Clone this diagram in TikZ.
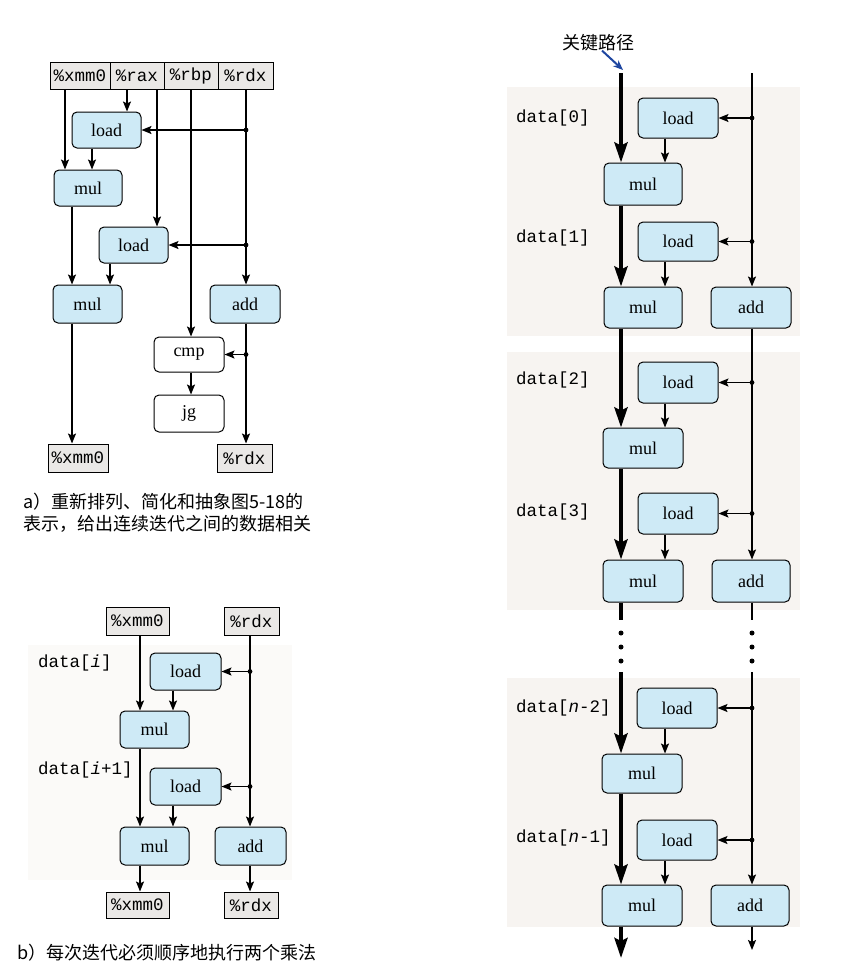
\documentclass[tikz,border=0pt]{standalone}
\usepackage{fontspec}
\setmainfont{Liberation Serif}
\setmonofont{Liberation Mono}
\newfontfamily\cjk{Noto Sans CJK SC}
\usetikzlibrary{arrows.meta}
\definecolor{opblue}{RGB}{206,234,246}
\definecolor{regfill}{RGB}{234,232,230}
\definecolor{panelc}{RGB}{247,244,241}
\definecolor{panelb}{RGB}{251,250,248}
\definecolor{critblue}{RGB}{30,70,160}
\begin{document}
\begin{tikzpicture}[x=1pt,y=-1pt,
  op/.style={draw,line width=1pt,rounded corners=5pt,fill=opblue,inner sep=0pt,font=\fontsize{18}{20}\selectfont},
  plainop/.style={op,fill=white},
  reg/.style={draw,line width=1pt,fill=regfill,inner sep=0pt,minimum height=27pt,font=\fontsize{17.5}{20}\selectfont\ttfamily},
  lab/.style={anchor=west,inner sep=0pt,font=\fontsize{17.5}{20}\selectfont\ttfamily},
  captxt/.style={anchor=west,inner sep=0pt,font=\cjk\fontsize{18}{22}\selectfont},
  arr/.style={line width=1.4pt,-{Stealth[length=10pt,width=8pt,inset=2pt]}},
  ln/.style={line width=1.4pt},
  critln/.style={line width=4pt},
  tarr/.style={line width=4pt,-{Stealth[length=20pt,width=13pt,inset=3pt]}},
  dotc/.style={fill=black}
]
\useasboundingbox[fill=white] (0,0) rectangle (867,975);

% ---------------- panels ----------------
\fill[panelb] (28,645) rectangle (292,880);
\fill[panelc] (507,87) rectangle (800,336);
\fill[panelc] (507,352) rectangle (800,610);
\fill[panelc] (507,678) rectangle (800,927);

% ---------------- part (a) ----------------
\node[reg,minimum width=60pt] (ax) at (80,75.5) {\%xmm0};
\node[reg,minimum width=54pt] (ar) at (137,75.5) {\%rax};
\node[reg,minimum width=54pt] (ab) at (191,75.5) {\%rbp};
\node[reg,minimum width=55pt] (ad) at (245.5,75.5) {\%rdx};
\node[op,minimum width=69pt,minimum height=36pt] (al1) at (106.5,130) {load};
\node[op,minimum width=68pt,minimum height=36pt] (am1) at (88,188) {mul};
\node[op,minimum width=69pt,minimum height=36pt] (al2) at (133.5,245) {load};
\node[op,minimum width=69pt,minimum height=38pt] (am2) at (87.5,304) {mul};
\node[op,minimum width=70pt,minimum height=38pt] (aadd) at (245,304) {add};
\node[plainop,minimum width=70pt,minimum height=35pt] (acmp) at (189,354.5) {cmp};
\node[plainop,minimum width=70pt,minimum height=37pt] (ajg) at (189,413.5) {jg};
\node[reg,minimum width=60pt,minimum height=28pt] (axo) at (78,458) {\%xmm0};
\node[reg,minimum width=55pt,minimum height=28pt] (ado) at (244.5,458) {\%rdx};

\coordinate (aC1) at (65,0);
\coordinate (aC2) at (92,0);
\coordinate (aC3) at (72,0);
\coordinate (aC4) at (110,0);
\coordinate (aC5) at (127,0);
\coordinate (aC6) at (157,0);
\coordinate (aC7) at (191,0);
\coordinate (aC8) at (246,0);
\coordinate (aD1) at (al1.east -| aC8);
\coordinate (aD2) at (al2.east -| aC8);
\coordinate (aD3) at (acmp.east -| aC8);

\draw[arr] (ax.south -| aC1) -- (am1.north -| aC1);
\draw[arr] (ar.south -| aC5) -- (al1.north -| aC5);
\draw[arr] (ar.south -| aC6) -- (al2.north -| aC6);
\draw[arr] (ab.south -| aC7) -- (acmp.north -| aC7);
\draw[arr] (ad.south -| aC8) -- (aadd.north -| aC8);
\draw[arr] (aD1) -- (al1.east);
\draw[arr] (aD2) -- (al2.east);
\draw[arr] (al1.south -| aC2) -- (am1.north -| aC2);
\draw[arr] (am1.south -| aC3) -- (am2.north -| aC3);
\draw[arr] (al2.south -| aC4) -- (am2.north -| aC4);
\draw[arr] (am2.south -| aC3) -- (axo.north -| aC3);
\draw[arr] (aadd.south -| aC8) -- (ado.north -| aC8);
\draw[arr] (aD3) -- (acmp.east);
\draw[arr] (acmp.south -| aC7) -- (ajg.north -| aC7);
\fill[dotc] (aD1) circle (2.4pt) (aD2) circle (2.4pt) (aD3) circle (2.4pt);

\node[captxt] (capa1) at (23,502) {a）重新排列、简化和抽象图5-18的};
\node[captxt] (capa2) at (23,524) {表示，给出连续迭代之间的数据相关};

% ---------------- part (b) ----------------
\node[reg,minimum width=63pt,minimum height=28pt] (bx) at (137.5,621) {\%xmm0};
\node[reg,minimum width=55pt,minimum height=28pt] (bd) at (251.5,621) {\%rdx};
\node[op,minimum width=71pt,minimum height=37pt] (bl1) at (185.5,671.5) {load};
\node[op,minimum width=69pt,minimum height=37pt] (bm1) at (154.5,729.5) {mul};
\node[op,minimum width=71pt,minimum height=37pt] (bl2) at (185.5,786.5) {load};
\node[op,minimum width=69pt,minimum height=38pt] (bm2) at (154.5,846) {mul};
\node[op,minimum width=71pt,minimum height=38pt] (badd) at (250.5,846) {add};
\node[reg,minimum width=63pt,minimum height=26pt] (bxo) at (137.5,905) {\%xmm0};
\node[reg,minimum width=54pt,minimum height=26pt] (bdo) at (251,905) {\%rdx};
\node[lab] (bt1) at (38,663) {data[\textit{i}]};
\node[lab] (bt2) at (38,770) {data[\textit{i}+1]};

\coordinate (bC1) at (140,0);
\coordinate (bC2) at (173,0);
\coordinate (bC3) at (250,0);
\coordinate (bD1) at (bl1.east -| bC3);
\coordinate (bD2) at (bl2.east -| bC3);

\draw[arr] (bx.south -| bC1) -- (bm1.north -| bC1);
\draw[arr] (bm1.south -| bC1) -- (bm2.north -| bC1);
\draw[arr] (bm2.south -| bC1) -- (bxo.north -| bC1);
\draw[arr] (bl1.south -| bC2) -- (bm1.north -| bC2);
\draw[arr] (bl2.south -| bC2) -- (bm2.north -| bC2);
\draw[arr] (bd.south -| bC3) -- (badd.north -| bC3);
\draw[arr] (badd.south -| bC3) -- (bdo.north -| bC3);
\draw[arr] (bD1) -- (bl1.east);
\draw[arr] (bD2) -- (bl2.east);
\fill[dotc] (bD1) circle (2.4pt) (bD2) circle (2.4pt);

\node[captxt] (capb) at (17,953) {b）每次迭代必须顺序地执行两个乘法};

% ---------------- right part ----------------
\node[op,minimum width=80pt,minimum height=40pt] (r0l) at (678,118) {load};
\node[op,minimum width=78pt,minimum height=42pt] (r0m) at (643,184) {mul};
\node[op,minimum width=80pt,minimum height=39pt] (r1l) at (678,241.5) {load};
\node[op,minimum width=78pt,minimum height=41pt] (r1m) at (643,307.5) {mul};
\node[op,minimum width=80pt,minimum height=41pt] (r1a) at (751,307.5) {add};
\node[op,minimum width=80pt,minimum height=41pt] (r2l) at (678,382.5) {load};
\node[op,minimum width=80pt,minimum height=40pt] (r2m) at (643,448) {mul};
\node[op,minimum width=80pt,minimum height=41pt] (r3l) at (678,513.5) {load};
\node[op,minimum width=80pt,minimum height=42pt] (r3m) at (643,581) {mul};
\node[op,minimum width=78pt,minimum height=42pt] (r3a) at (751,581) {add};
\node[op,minimum width=80pt,minimum height=40pt] (r4l) at (677,708) {load};
\node[op,minimum width=80pt,minimum height=39pt] (r4m) at (642,773.5) {mul};
\node[op,minimum width=80pt,minimum height=40pt] (r5l) at (677,840) {load};
\node[op,minimum width=80pt,minimum height=41pt] (r5m) at (642,905.5) {mul};
\node[op,minimum width=78pt,minimum height=41pt] (r5a) at (750,905.5) {add};

\node[lab] (rt0) at (516,118) {data[0]};
\node[lab] (rt1) at (516,238) {data[1]};
\node[lab] (rt2) at (516,380) {data[2]};
\node[lab] (rt3) at (516,512) {data[3]};
\node[lab] (rt4) at (516,708) {data[\textit{n}-2]};
\node[lab] (rt5) at (516,838) {data[\textit{n}-1]};

\coordinate (rtop) at (621,73);
\coordinate (rrtop) at (752,73);
\coordinate (rL) at (665,0);
\coordinate (rb1) at (621,620);
\coordinate (rb2) at (621,672);
\coordinate (rrb1) at (752,620);
\coordinate (rrb2) at (752,672);
\coordinate (rend) at (621,958);
\coordinate (rrend) at (752,950);

% critical path
\draw[tarr] (rtop) -- (r0m.north -| rtop);
\draw[tarr] (r0m.south -| rtop) -- (r1m.north -| rtop);
\draw[tarr] (r1m.south -| rtop) -- (r2m.north -| rtop);
\draw[tarr] (r2m.south -| rtop) -- (r3m.north -| rtop);
\draw[critln] (r3m.south -| rtop) -- (rb1);
\draw[tarr] (rb2) -- (r4m.north -| rtop);
\draw[tarr] (r4m.south -| rtop) -- (r5m.north -| rtop);
\draw[tarr] (r5m.south -| rtop) -- (rend);

% load -> mul
\draw[arr] (r0l.south -| rL) -- (r0m.north -| rL);
\draw[arr] (r1l.south -| rL) -- (r1m.north -| rL);
\draw[arr] (r2l.south -| rL) -- (r2m.north -| rL);
\draw[arr] (r3l.south -| rL) -- (r3m.north -| rL);
\draw[arr] (r4l.south -| rL) -- (r4m.north -| rL);
\draw[arr] (r5l.south -| rL) -- (r5m.north -| rL);

% rdx column
\coordinate (rD0) at (r0l.east -| rrtop);
\coordinate (rD1) at (r1l.east -| rrtop);
\coordinate (rD2) at (r2l.east -| rrtop);
\coordinate (rD3) at (r3l.east -| rrtop);
\coordinate (rD4) at (r4l.east -| rrtop);
\coordinate (rD5) at (r5l.east -| rrtop);
\draw[arr] (rrtop) -- (r1a.north -| rrtop);
\draw[arr] (r1a.south -| rrtop) -- (r3a.north -| rrtop);
\draw[ln] (r3a.south -| rrtop) -- (rrb1);
\draw[arr] (rrb2) -- (r5a.north -| rrtop);
\draw[arr] (r5a.south -| rrtop) -- (rrend);
\draw[arr] (rD0) -- (r0l.east);
\draw[arr] (rD1) -- (r1l.east);
\draw[arr] (rD2) -- (r2l.east);
\draw[arr] (rD3) -- (r3l.east);
\draw[arr] (rD4) -- (r4l.east);
\draw[arr] (rD5) -- (r5l.east);
\fill[dotc] (rD0) circle (2.4pt) (rD1) circle (2.4pt) (rD2) circle (2.4pt)
  (rD3) circle (2.4pt) (rD4) circle (2.4pt) (rD5) circle (2.4pt);

% ellipsis dots
\foreach \yy in {633,647,661} {
  \fill[dotc] (621,\yy) circle (2.5pt);
  \fill[dotc] (752,\yy) circle (2.5pt);
}

% critical-path label
\node[inner sep=1pt,font=\cjk\fontsize{18}{20}\selectfont] (crit) at (598,43) {关键路径};
\coordinate (critend) at (623,70);
\draw[line width=2pt,critblue,-{Stealth[length=10pt,width=8pt]}] ([xshift=4pt,yshift=2pt]crit.south) -- (critend);
\end{tikzpicture}
\end{document}
